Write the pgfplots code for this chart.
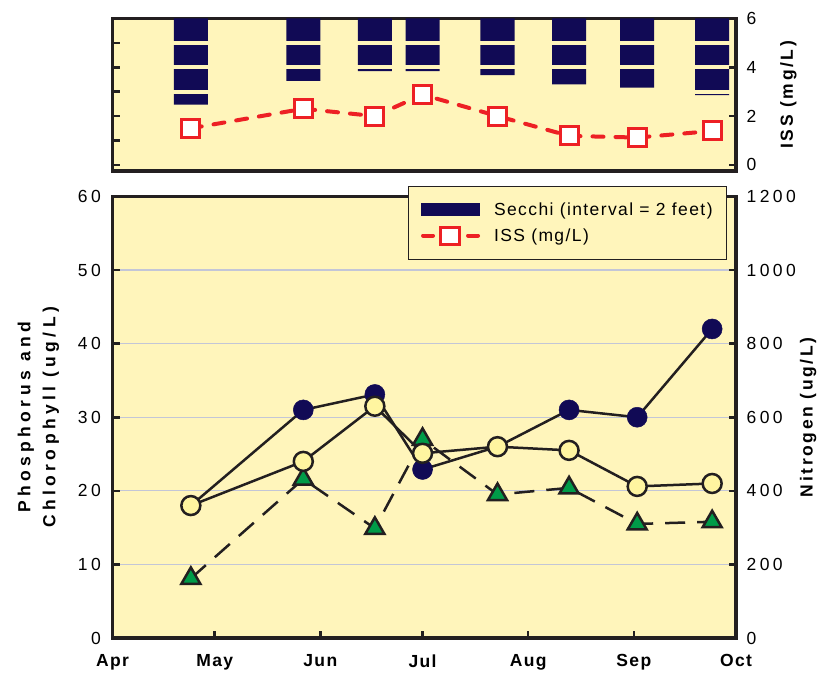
\documentclass[border=0pt]{standalone}
\usepackage{fontspec}
\setmainfont{Liberation Sans}[LetterSpace=8]
\newfontfamily\tickfont{Liberation Sans}[LetterSpace=20]
\newfontfamily\nlabfont{Liberation Sans}[LetterSpace=15]
\newfontfamily\plabfont{Liberation Sans}[LetterSpace=25]
\usepackage{pgfplots}
\pgfplotsset{compat=1.18}
\definecolor{bg}{RGB}{255,245,187}
\definecolor{navy}{RGB}{17,10,85}
\definecolor{grn}{RGB}{0,155,72}
\definecolor{cyel}{RGB}{255,245,160}
\definecolor{issred}{RGB}{237,32,36}
\definecolor{gridc}{RGB}{195,198,215}
\definecolor{ink}{RGB}{35,31,32}
\newcommand\fs{\fontsize{17.5}{21}\selectfont}
\begin{document}
\begin{tikzpicture}
\pgfplotsset{
  base/.style={scale only axis, width=623.5pt, xmin=0, xmax=183,
    axis line style={line width=3.3pt, ink},
    tick style={line width=2.5pt, ink},
    major tick length=7pt, tick align=inside,
    /pgf/number format/assume math mode=true,
    /pgf/number format/1000 sep={},
    yticklabel style={font=\fs\tickfont},
    xticklabel style={font=\fs\bfseries, yshift=-13pt},
  },
  lefty/.style={yticklabel style={xshift=-8pt}},
  righty/.style={yticklabel style={xshift=7pt}},
}
\path[use as bounding box] (-112.5pt,-35pt) rectangle (710.5pt,638pt);
% ---------- bottom panel: phosphorus / chlorophyll (left) ----------
\begin{axis}[base, lefty, at={(0pt,0pt)}, anchor=south west, height=441.5pt,
  ymin=0, ymax=60, ytick={0,10,...,60}, ytick pos=left,
  xtick={0,30,61,91,122,153,183}, xticklabels={Apr,May,Jun,Jul,Aug,Sep,Oct}, xtick pos=bottom,
  ymajorgrids, grid style={gridc, line width=1.2pt},
  axis background/.style={fill=bg},
  ylabel={Phosphorus and\\Chlorophyll (ug/L)},
  ylabel style={at={(ticklabel cs:0.5,12pt)}, align=center, font=\fontsize{17.5}{25}\plabfont\bfseries},
  legend style={at={(0.9856,1.0238)}, anchor=north east, fill=bg, draw=ink, line width=0.8pt,
    font=\fs, inner xsep=12pt, inner ysep=14pt, row sep=7pt, column sep=12pt},
  legend cell align=left]
\addplot[forget plot, ink, line width=2.5pt, dash pattern=on 20pt off 12pt, mark=triangle*, mark size=11pt,
  mark options={solid, fill=grn, draw=ink, line width=2.5pt}]
  coordinates {(23,8.1) (56,21.6) (77,14.9) (91,27.0) (113,19.5) (134,20.4) (154,15.5) (176,15.8)};
\addplot[forget plot, ink, line width=2.5pt, mark=*, mark size=10pt,
  mark options={fill=navy, draw=navy, line width=0.5pt}]
  coordinates {(23,18) (56,31) (77,33.1) (91,22.9) (113,26) (134,31) (154,30) (176,42)};
\addplot[forget plot, ink, line width=2.5pt, mark=*, mark size=9.5pt,
  mark options={fill=cyel, draw=ink, line width=2.5pt}]
  coordinates {(23,18) (56,24) (77,31.5) (91,25.1) (113,26) (134,25.5) (154,20.6) (176,21)};
\addlegendimage{legend image code/.code={\fill[navy] (0pt,-6pt) rectangle (58pt,6pt);}}
\addlegendentry{Secchi (interval = 2 feet)}
\addlegendimage{legend image code/.code={
   \draw[issred, line width=4pt, line cap=round] (2pt,0pt) -- (12pt,0pt);
   \draw[issred, line width=4pt, line cap=round] (47pt,0pt) -- (57pt,0pt);
   \draw[issred, line width=3pt, fill=white] (19.5pt,-8.5pt) rectangle (38.5pt,8.5pt);}}
\addlegendentry{ISS (mg/L)}
\end{axis}
% ---------- bottom panel: nitrogen (right) ----------
\begin{axis}[base, righty, at={(0pt,0pt)}, anchor=south west, height=441.5pt,
  ymin=0, ymax=1200, ytick={0,200,...,1200},
  axis x line=none, axis y line*=right,
  ylabel={Nitrogen (ug/L)}, ylabel style={at={(ticklabel cs:0.5,-3pt)}, font=\fs\nlabfont\bfseries}]
\end{axis}
% ---------- top panel: Secchi bars ----------
\begin{axis}[base, at={(0pt,467pt)}, anchor=south west, height=152.5pt,
  ymin=0, ymax=12.5, y dir=reverse, ytick={2,4,...,12}, yticklabels={}, ytick pos=left,
  xtick=\empty, axis background/.style={fill=bg}]
\addplot[ybar, bar width=10, bar shift=0pt, fill=navy, draw=none]
  coordinates {(23,7.05) (56,5.11) (77,4.32) (91,4.32) (113,4.65) (134,5.39) (154,5.66) (176,6.29)};
\addplot[only marks, mark=-, mark size=18pt, mark options={draw=bg, line width=4pt}]
  coordinates {(23,2) (23,4) (23,6) (56,2) (56,4) (77,2) (77,4) (91,2) (91,4)
               (113,2) (113,4) (134,2) (134,4) (154,2) (154,4) (176,2) (176,4) (176,6)};
\end{axis}
% ---------- top panel: ISS ----------
\begin{axis}[base, righty, at={(0pt,467pt)}, anchor=south west, height=152.5pt,
  ymin=-0.25, ymax=6, ytick={0,2,4,6},
  axis x line=none, axis y line*=right,
  ylabel={ISS (mg/L)}, ylabel style={at={(ticklabel cs:0.5,17pt)}, font=\fs\nlabfont\bfseries}]
\addplot[issred, line width=4pt, dash pattern=on 11pt off 12pt, line cap=round,
  mark=square*, mark size=9pt, mark options={solid, fill=white, draw=issred, line width=3pt}]
  coordinates {(23,1.5) (56,2.3) (77,2.0) (91,2.88) (113,2.0) (134,1.19) (154,1.12) (176,1.39)};
\end{axis}
\end{tikzpicture}
\end{document}
